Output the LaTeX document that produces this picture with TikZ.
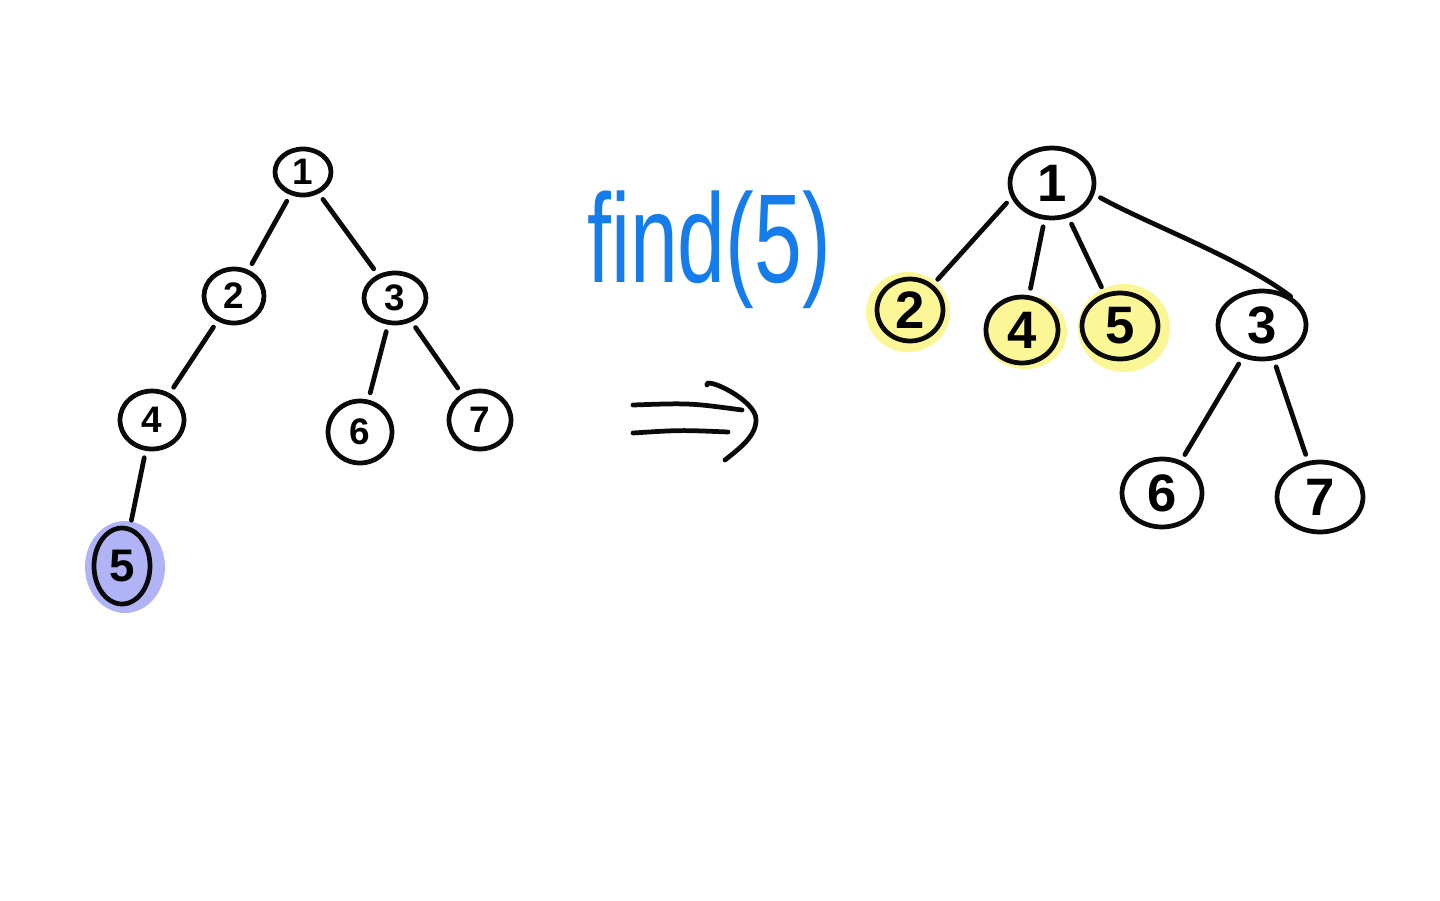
\documentclass[tikz,border=0pt]{standalone}
\usepackage{fontspec}
\setmainfont{Liberation Sans}
\usetikzlibrary{shapes.geometric,backgrounds}
\definecolor{ink}{RGB}{10,10,10}
\definecolor{penblue}{RGB}{20,125,235}
\definecolor{markpurple}{RGB}{176,180,246}
\definecolor{markyellow}{RGB}{251,246,150}
\tikzset{
  stroke/.style={draw=ink, line width=2.7pt, line cap=round, line join=round},
  vtx/.style={stroke, ellipse, inner sep=0pt},
  small/.style={vtx, font=\bfseries\fontsize{21}{24}\selectfont},
  big/.style={vtx, font=\bfseries\fontsize{30}{34}\selectfont},
  edge/.style={stroke, shorten <=4pt, shorten >=4pt},
}
\begin{document}
\begin{tikzpicture}[x=0.02cm, y=-0.02cm]
\useasboundingbox (0,0) rectangle (1440,900);

% tree before the lookup
\node[small, minimum width=1.12cm, minimum height=0.92cm] (n1) at (303,172) {1};
\node[small, minimum width=1.20cm, minimum height=1.08cm] (n2) at (234,296) {2};
\node[small, minimum width=1.24cm, minimum height=1.00cm] (n3) at (395,298) {3};
\node[small, minimum width=1.28cm, minimum height=1.16cm] (n4) at (152,420) {4};
\node[small, minimum width=1.28cm, minimum height=1.24cm] (n6) at (360,432) {6};
\node[small, minimum width=1.24cm, minimum height=1.16cm] (n7) at (480,420) {7};
\node[small, minimum width=1.12cm, minimum height=1.52cm, font=\bfseries\fontsize{26}{30}\selectfont] (n5) at (122,566) {5};

\draw[edge] (n1) -- (n2);
\draw[edge] (n1) -- (n3);
\draw[edge] (n2) -- (n4);
\draw[edge] (n3) -- (n6);
\draw[edge] (n3) -- (n7);
\draw[edge] (n4) -- (n5);

% operation label and arrow
\node[text=penblue, font=\fontsize{72}{80}\selectfont] (op) at (709,250) {\scalebox{0.68}[1]{find(5)}};
\coordinate (a1) at (633,405);
\coordinate (a2) at (742,410);
\coordinate (b1) at (633,433);
\coordinate (b2) at (728,432);
\coordinate (h1) at (707,385);
\coordinate (h2) at (756,420);
\coordinate (h3) at (725,460);
\draw[stroke] (a1) .. controls (690,403) .. (a2);
\draw[stroke] (b1) .. controls (680,430) .. (b2);
\draw[stroke] (h1) .. controls (704,376) and (757,400) .. (h2) .. controls (756,436) and (740,448) .. (h3);

% tree after path compression
\node[big, minimum width=1.68cm, minimum height=1.40cm] (m1) at (1052,183) {1};
\node[big, minimum width=1.32cm, minimum height=1.24cm] (m2) at (910,310) {2};
\node[big, minimum width=1.44cm, minimum height=1.32cm] (m4) at (1022,330) {4};
\node[big, minimum width=1.52cm, minimum height=1.32cm] (m5) at (1120,326) {5};
\node[big, minimum width=1.76cm, minimum height=1.36cm] (m3) at (1262,325) {3};
\node[big, minimum width=1.60cm, minimum height=1.36cm] (m6) at (1162,493) {6};
\node[big, minimum width=1.72cm, minimum height=1.40cm] (m7) at (1320,497) {7};

\draw[edge] (m1.200) -- (m2);
\draw[edge] (m1) -- (m4);
\draw[edge] (m1) -- (m5);
\draw[edge, shorten >=0pt] (m1.-15) .. controls (1150,225) and (1240,258) .. (m3.45);
\draw[edge] (m3) -- (m6);
\draw[edge] (m3) -- (m7);

% white sheet and highlight marks behind the nodes
\begin{pgfonlayer}{background}
  \fill[white] (0,0) rectangle (1440,900);
  \fill[markpurple] (125,567) ellipse [x radius=0.80cm, y radius=0.92cm];
  \fill[markyellow] (908,312) ellipse [x radius=0.84cm, y radius=0.80cm];
  \fill[markyellow] (1025,332) ellipse [x radius=0.84cm, y radius=0.74cm];
  \fill[markyellow] (1124,328) ellipse [x radius=0.92cm, y radius=0.88cm];
\end{pgfonlayer}
\end{tikzpicture}
\end{document}
